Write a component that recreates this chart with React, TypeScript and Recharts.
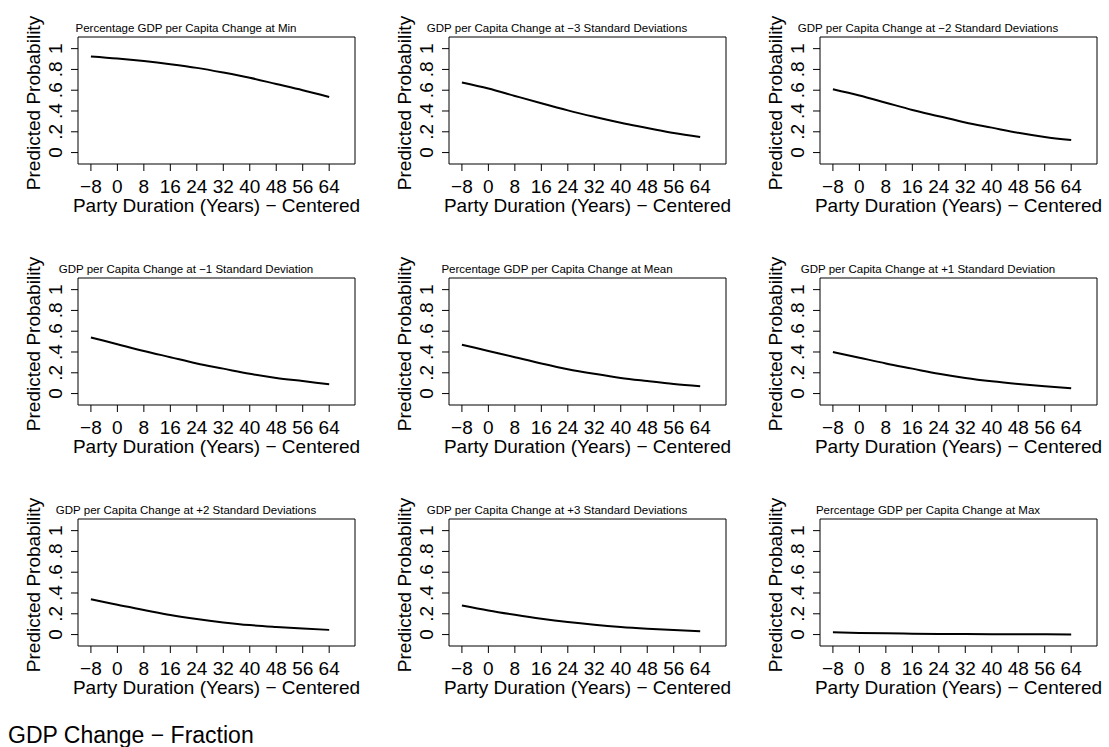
import React from 'react';
import { LineChart, Line, XAxis, YAxis, ReferenceArea } from 'recharts';

// x values (party duration, centered) and axis ticks
const duration = [-8, 0, 8, 16, 24, 32, 40, 48, 56, 64];
const xTicks = [-8, 0, 8, 16, 24, 32, 40, 48, 56, 64];
const yTicks = [0, 0.2, 0.4, 0.6, 0.8, 1];
const yTickLabels = ['0', '.2', '.4', '.6', '.8', '1'];

const titles = [
  'Percentage GDP per Capita Change at Min',
  'GDP per Capita Change at \u22123 Standard Deviations',
  'GDP per Capita Change at \u22122 Standard Deviations',
  'GDP per Capita Change at \u22121 Standard Deviation',
  'Percentage GDP per Capita Change at Mean',
  'GDP per Capita Change at +1 Standard Deviation',
  'GDP per Capita Change at +2 Standard Deviations',
  'GDP per Capita Change at +3 Standard Deviations',
  'Percentage GDP per Capita Change at Max',
];

// predicted probabilities
const probMin = [0.925, 0.905, 0.88, 0.85, 0.815, 0.77, 0.72, 0.66, 0.6, 0.535];
const probMinus3 = [0.675, 0.617, 0.545, 0.474, 0.406, 0.344, 0.286, 0.237, 0.188, 0.149];
const probMinus2 = [0.61, 0.55, 0.48, 0.41, 0.35, 0.29, 0.24, 0.19, 0.15, 0.12];
const probMinus1 = [0.54, 0.475, 0.41, 0.35, 0.29, 0.24, 0.19, 0.15, 0.12, 0.09];
const probMean = [0.47, 0.41, 0.35, 0.29, 0.235, 0.19, 0.15, 0.12, 0.092, 0.07];
const probPlus1 = [0.4, 0.345, 0.29, 0.24, 0.19, 0.15, 0.118, 0.092, 0.07, 0.052];
const probPlus2 = [0.34, 0.286, 0.237, 0.188, 0.149, 0.117, 0.091, 0.073, 0.058, 0.045];
const probPlus3 = [0.28, 0.232, 0.19, 0.152, 0.12, 0.094, 0.073, 0.057, 0.044, 0.033];
const probMax = [0.022, 0.016, 0.012, 0.009, 0.006, 0.005, 0.003, 0.002, 0.002, 0.001];

const series = [probMin, probMinus3, probMinus2, probMinus1, probMean, probPlus1, probPlus2, probPlus3, probMax];

const FONT = '"Liberation Sans", Arial, Helvetica, sans-serif';
const PANEL_W = 371;
const PANEL_H = 241;
const BOX_LEFT = 78;
const BOX_TOP = 37;
const BOX_W = 277;
const BOX_H = 127;
const X_DOMAIN: [number, number] = [-11.9, 71.8];
const Y_DOMAIN: [number, number] = [-0.11, 1.112];

const fmtX = (v: number) => (v < 0 ? '\u2212' + Math.abs(v) : String(v));

const XTick = (props: any) => {
  const { x, y, payload } = props;
  return (
    <text x={x} y={y + 22} textAnchor="middle" fontSize={19} fontFamily={FONT} fill="#000">
      {fmtX(payload.value)}
    </text>
  );
};

const YTick = (props: any) => {
  const { x, y, payload } = props;
  const tx = x - 9;
  const idx = yTicks.findIndex((t) => Math.abs(t - payload.value) < 1e-9);
  return (
    <text
      x={tx}
      y={y}
      transform={`rotate(-90, ${tx}, ${y})`}
      textAnchor="middle"
      fontSize={19}
      fontFamily={FONT}
      fill="#000"
    >
      {idx >= 0 ? yTickLabels[idx] : payload.value}
    </text>
  );
};

const Panel = ({ index }: { index: number }) => {
  const col = index % 3;
  const row = Math.floor(index / 3);
  const data = duration.map((d, i) => ({ d, p: series[index][i] }));
  return (
    <div style={{ position: 'absolute', left: col * PANEL_W, top: row * PANEL_H, width: PANEL_W, height: PANEL_H }}>
      <LineChart
        width={PANEL_W}
        height={PANEL_H}
        data={data}
        margin={{ top: BOX_TOP, right: PANEL_W - BOX_LEFT - BOX_W, bottom: PANEL_H - BOX_TOP - BOX_H - 60, left: BOX_LEFT - 50 }}
      >
        <XAxis
          dataKey="d"
          type="number"
          domain={X_DOMAIN}
          ticks={xTicks}
          interval={0}
          allowDataOverflow
          height={60}
          axisLine={false}
          tickLine={{ stroke: '#000' }}
          tickSize={7}
          tickMargin={0}
          tick={<XTick />}
        />
        <YAxis
          type="number"
          domain={Y_DOMAIN}
          ticks={yTicks}
          interval={0}
          allowDataOverflow
          width={50}
          axisLine={false}
          tickLine={{ stroke: '#000' }}
          tickSize={7}
          tickMargin={0}
          tick={<YTick />}
        />
        <ReferenceArea
          x1={X_DOMAIN[0]}
          x2={X_DOMAIN[1]}
          y1={Y_DOMAIN[0]}
          y2={Y_DOMAIN[1]}
          fill="none"
          fillOpacity={0}
          stroke="#000"
          strokeWidth={1}
          ifOverflow="visible"
        />
        <Line type="monotone" dataKey="p" stroke="#000" strokeWidth={2} dot={false} isAnimationActive={false} />
      </LineChart>
      <svg
        width={PANEL_W}
        height={PANEL_H}
        style={{ position: 'absolute', left: 0, top: 0, pointerEvents: 'none', overflow: 'visible' }}
      >
        <text x={BOX_LEFT + 108} y={32} textAnchor="middle" fontSize={11.5} fontFamily={FONT} fill="#000">
          {titles[index]}
        </text>
        <text
          x={BOX_LEFT + BOX_W / 2}
          y={BOX_TOP + BOX_H + 48}
          textAnchor="middle"
          fontSize={19}
          fontFamily={FONT}
          fill="#000"
        >
          Party Duration (Years) {'\u2212'} Centered
        </text>
        <text
          x={40}
          y={103}
          transform="rotate(-90, 40, 103)"
          textAnchor="middle"
          fontSize={19}
          fontFamily={FONT}
          fill="#000"
        >
          Predicted Probability
        </text>
      </svg>
    </div>
  );
}

export default function App() {
  return (
    <div style={{ position: 'absolute', left: 0, top: 0, width: 1109, height: 747, background: '#fff', overflow: 'hidden' }}>
      {series.map((_, i) => (
        <Panel key={i} index={i} />
      ))}
      <svg width={400} height={747} style={{ position: 'absolute', left: 0, top: 0, pointerEvents: 'none' }}>
        <text x={8} y={743} fontSize={23} fontFamily={FONT} fill="#000">
          GDP Change {'\u2212'} Fraction
        </text>
      </svg>
    </div>
  );
}
